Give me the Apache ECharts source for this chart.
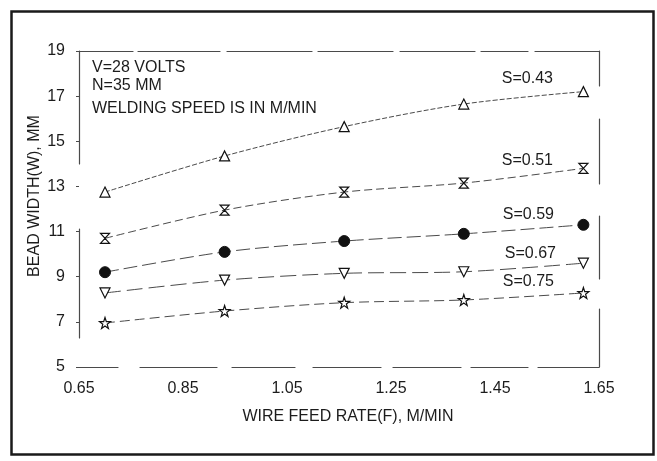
<!DOCTYPE html>
<html>
<head>
<meta charset="utf-8">
<script src="https://cdn.jsdelivr.net/npm/echarts@6/dist/echarts.min.js"></script>
<style>
  html, body { margin: 0; padding: 0; background: #fff; }
  #chart { width: 657px; height: 461px; }
</style>
</head>
<body>
<div id="chart"></div>
<script>
// wire feed rate (M/MIN)
const feedRate = [0.70, 0.93, 1.16, 1.39, 1.62];
// bead width (MM) for each welding speed
const s043 = [12.75, 14.35, 15.65, 16.65, 17.2];
const s051 = [10.7, 11.95, 12.75, 13.15, 13.8];
const s059 = [9.2, 10.1, 10.58, 10.9, 11.3];
const s067 = [8.28, 8.85, 9.15, 9.22, 9.6];
const s075 = [6.95, 7.48, 7.85, 7.97, 8.28];
const speedLabels = ['S=0.43', 'S=0.51', 'S=0.59', 'S=0.67', 'S=0.75'];
const notes = ['V=28 VOLTS', 'N=35 MM', 'WELDING SPEED IS IN M/MIN'];

const FONT = '"Liberation Sans", Arial, sans-serif';
const INK = '#1c1c1c';
const AXIS = '#4a4a4a';

const chart = echarts.init(document.getElementById('chart'));

const hourglass = 'path://M0,0L10,0L5,5L10,10L0,10L5,5Z';
const star = 'path://M5,0L6.2,3.6L10,3.6L7,5.9L8.1,9.5L5,7.3L1.9,9.5L3,5.9L0,3.6L3.8,3.6Z';

// label offsets for the S= tags sitting above the last point
const tagOffsets = [[-56, -13], [-56, -8], [-55, -10], [-53, -10], [-55, -11]];

function makeSeries(values, idx, symbol, opts) {
  const data = values.map(function (v, i) {
    const item = { value: [feedRate[i], v] };
    if (i === values.length - 1) {
      item.label = {
        show: true,
        formatter: speedLabels[idx],
        position: 'inside',
        offset: tagOffsets[idx],
        color: INK,
        fontFamily: FONT,
        fontSize: 16
      };
    }
    return item;
  });
  return Object.assign({
    type: 'line',
    name: speedLabels[idx],
    data: data,
    smooth: 0.3,
    symbol: symbol,
    symbolSize: 10,
    showAllSymbol: true,
    lineStyle: { color: AXIS, width: 1, type: [6, 3] },
    itemStyle: { color: '#fff', borderColor: '#111', borderWidth: 1.2 },
    emphasis: { disabled: true },
    z: 3
  }, opts || {});
}

const option = {
  backgroundColor: '#fff',
  animation: false,
  grid: { left: 79, right: 58, top: 51, bottom: 94, outerBoundsMode: 'none' },
  xAxis: [
    {
      type: 'value',
      min: 0.65,
      max: 1.65,
      interval: 0.2,
      name: 'WIRE FEED RATE(F), M/MIN',
      nameLocation: 'middle',
      nameGap: 42,
      nameTextStyle: { color: INK, fontFamily: FONT, fontSize: 16, padding: [0, 0, 0, 18] },
      axisLine: {
        show: true, onZero: false,
        lineStyle: { color: AXIS, width: 1.2, type: [39, 22, 77, 15, 63, 18, 68, 12, 68, 10, 57, 10, 61] }
      },
      axisTick: { show: false },
      splitLine: { show: false },
      axisLabel: {
        color: INK, fontFamily: FONT, fontSize: 16, margin: 14,
        formatter: function (v) { return v.toFixed(2); }
      }
    },
    {
      type: 'value',
      position: 'top',
      min: 0.65,
      max: 1.65,
      axisLine: {
        show: true,
        lineStyle: { color: AXIS, width: 1.2, type: [54, 5, 82, 7, 85, 6, 75, 7, 75, 6, 47, 7, 64] }
      },
      axisTick: { show: false },
      axisLabel: { show: false },
      splitLine: { show: false }
    }
  ],
  yAxis: [
    {
      type: 'value',
      min: 5,
      max: 19,
      interval: 2,
      name: 'BEAD WIDTH(W), MM',
      nameLocation: 'middle',
      nameGap: 36,
      nameMoveOverlap: false,
      nameTextStyle: { color: INK, fontFamily: FONT, fontSize: 16, padding: [0, 0, 0, 26] },
      axisLine: {
        show: true, onZero: false,
        lineStyle: { color: AXIS, width: 1.2, type: [109, 65, 113, 29], dashOffset: 287 }
      },
      axisTick: { show: true, length: 3, lineStyle: { color: AXIS } },
      splitLine: { show: false },
      axisLabel: { color: INK, fontFamily: FONT, fontSize: 16, margin: 14 }
    },
    {
      type: 'value',
      position: 'right',
      min: 5,
      max: 19,
      axisLine: {
        show: true,
        lineStyle: { color: AXIS, width: 1.2, type: [58, 30, 63, 32, 65, 33, 36] }
      },
      axisTick: { show: false },
      axisLabel: { show: false },
      splitLine: { show: false }
    }
  ],
  series: [
    makeSeries(s043, 0, 'triangle', { lineStyle: { color: AXIS, width: 1, type: [5, 2] } }),
    makeSeries(s051, 1, hourglass, { symbolSize: [9, 10], lineStyle: { color: AXIS, width: 1, type: [8, 4] } }),
    makeSeries(s059, 2, 'circle', {
      symbolSize: 11,
      itemStyle: { color: '#111', borderColor: '#111', borderWidth: 1 },
      lineStyle: { color: AXIS, width: 1, type: [14, 5] }
    }),
    makeSeries(s067, 3, 'triangle', { symbolRotate: 180, lineStyle: { color: AXIS, width: 1, type: [16, 6] } }),
    makeSeries(s075, 4, star, { symbolSize: 11, lineStyle: { color: AXIS, width: 1, type: [10, 5] } })
  ],
  graphic: [
    {
      type: 'rect',
      left: 9,
      top: 9,
      shape: { width: 642, height: 443 },
      style: { fill: 'none', stroke: '#1a1a1a', lineWidth: 2.5 },
      silent: true
    },
    {
      type: 'text', left: 92, top: 60,
      style: { text: notes[0], fill: INK, font: '16px ' + FONT }
    },
    {
      type: 'text', left: 92, top: 78,
      style: { text: notes[1], fill: INK, font: '16px ' + FONT }
    },
    {
      type: 'text', left: 92, top: 101,
      style: { text: notes[2], fill: INK, font: '16px ' + FONT }
    }
  ]
};

chart.setOption(option);
</script>
</body>
</html>
